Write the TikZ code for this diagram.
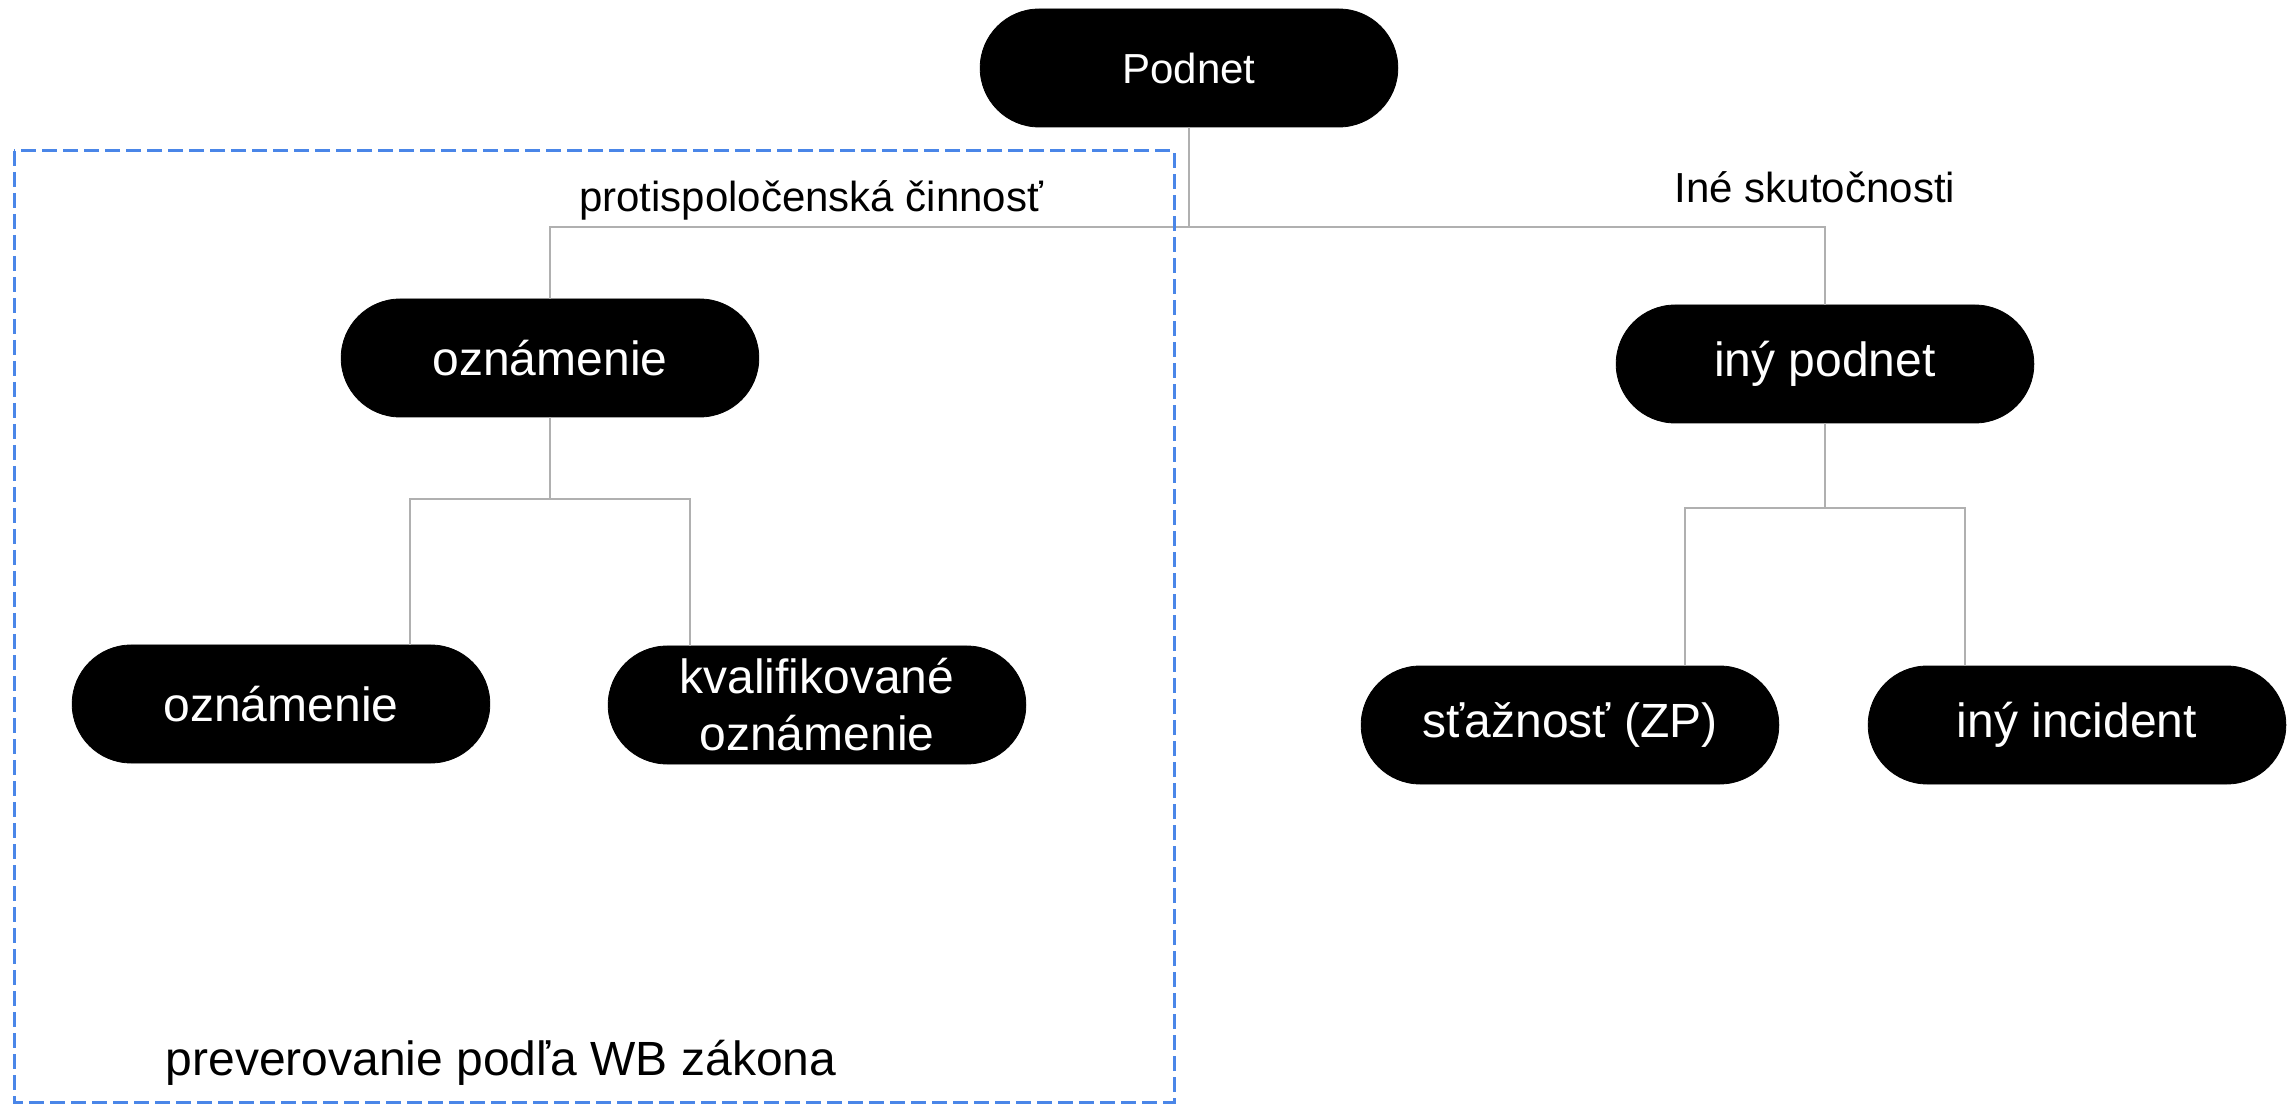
\documentclass[tikz,border=0pt]{standalone}
\usepackage{fontspec}
\setmainfont{Liberation Sans}
\usetikzlibrary{calc,shapes.misc}
\definecolor{wbblue}{HTML}{4A86E8}
\definecolor{linkgray}{HTML}{B0B0B0}

\begin{document}
\begin{tikzpicture}[
      x=0.5pt, y=-0.5pt,
      box/.style={draw=black, fill=black, text=white, rounded rectangle, rounded rectangle arc length=180, align=center, minimum width=215.5pt, minimum height=59pt, font=\fontsize{24}{28.5}\selectfont},
      link/.style={draw=linkgray, line width=1pt},
      lbl/.style={anchor=base, font=\fontsize{21}{25}\selectfont}
    ]
    \useasboundingbox (0,0) rectangle (2295,1111);

    \node[box, font=\fontsize{21}{25}\selectfont] (podnet) at (1189,68) {Podnet};

    \node[box] (ozn) at (550,358) {oznámenie};
    \node[box] (iny) at (1825,364) {iný podnet};

    \node[box] (ozn1) at (281,704) {oznámenie};
    \node[box] (kval) at (817,705) {kvalifikované\\oznámenie};
    \node[box] (stz) at (1570,725) {sťažnosť (ZP)};
    \node[box] (inc) at (2077,725) {iný incident};

    \node[lbl] (anti) at (811,212) {protispoločenská činnosť};
    \node[lbl] (ine) at (1815,203) {Iné skutočnosti};

    % first split
    \draw[link] (podnet.south) -- ++(0,100) coordinate (s0);
    \draw[link] (s0) -| (ozn.north);
    \draw[link] (s0) -| (iny.north);

    % left split
    \draw[link] (ozn.south) -- ++(0,82) coordinate (s1);
    \draw[link] (s1) -- ++(-140,0) coordinate (a1) -- (a1 |- ozn1.north);
    \draw[link] (s1) -- ++(140,0) coordinate (a2) -- (a2 |- kval.north);

    % right split
    \draw[link] (iny.south) -- ++(0,85) coordinate (s2);
    \draw[link] (s2) -- ++(-140,0) coordinate (b1) -- (b1 |- stz.north);
    \draw[link] (s2) -- ++(140,0) coordinate (b2) -- (b2 |- inc.north);

    % WB area
    \draw[wbblue, line width=1.5pt, dash pattern=on 7.5pt off 3pt] (14,151) rectangle (1174,1102);
    \node[lbl, font=\fontsize{24}{28}\selectfont] (wb) at (501,1075) {preverovanie podľa WB zákona};
  \end{tikzpicture}
\end{document}
